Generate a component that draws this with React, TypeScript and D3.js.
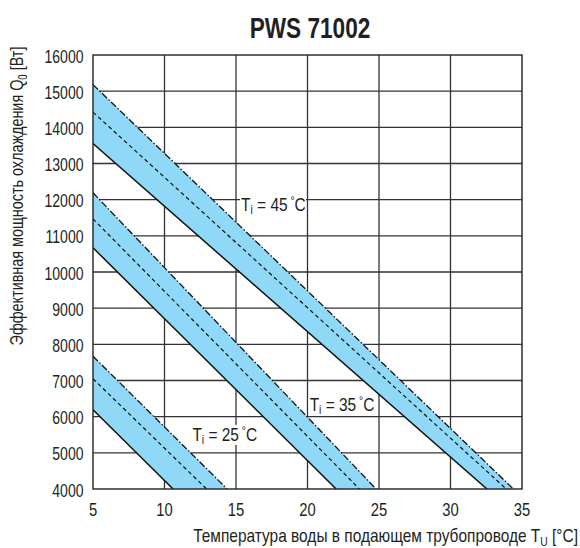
import React from 'react';
import * as d3 from 'd3';

const xTicks = [5, 10, 15, 20, 25, 30, 35];
const yTicks = [4000, 5000, 6000, 7000, 8000, 9000, 10000, 11000, 12000, 13000, 14000, 15000, 16000];
const bandNames = ['45', '35', '25'];
// upper (dash-dot) edge: [x, y] points
const upperEdge = [
  [[5, 15180], [34.4, 4000]],
  [[5, 12190], [24.8, 4000]],
  [[5, 7670], [14.38, 4000]],
];
// middle (dashed)
const middleLine = [
  [[5, 14420], [33.9, 4000]],
  [[5, 11470], [23.63, 4000]],
  [[5, 7050], [12.94, 4000]],
];
// lower (solid) edge
const lowerEdge = [
  [[5, 13550], [32.55, 4000]],
  [[5, 10670], [22.0, 4000]],
  [[5, 6190], [10.6, 4000]],
];
// label anchor positions (data coords)
const labelPos = [
  [15.35, 11700],
  [20.15, 6160],
  [11.95, 5330],
];

const W = 580, H = 548;
const L = 93, R = 522, T = 55, B = 489;
const FONT = "'Liberation Sans', Arial, sans-serif";
const INK = '#231f20';

export default function App() {
  const x = d3.scaleLinear().domain([5, 35]).range([L, R]);
  const y = d3.scaleLinear().domain([4000, 16000]).range([B, T]);
  const line = d3.line<number[]>().x(d => x(d[0])).y(d => y(d[1]));

  return (
    <svg width={W} height={H} style={{ position: 'absolute', left: 0, top: 0 }} fontFamily={FONT}>
      <defs>
        <clipPath id="plot">
          <rect x={L} y={T} width={R - L} height={B - T} />
        </clipPath>
      </defs>
      <rect x={0} y={0} width={W} height={H} fill="#fff" />
      <text transform="translate(310,38) scale(0.78,1)" textAnchor="middle" fontSize={29} fontWeight="bold" fill={INK}>PWS 71002</text>

      {/* grid */}
      {xTicks.slice(1, -1).map(t => (
        <line key={'gx' + t} x1={x(t)} x2={x(t)} y1={T} y2={B} stroke="#333" strokeWidth={1.3} />
      ))}
      {yTicks.slice(1, -1).map(t => (
        <line key={'gy' + t} x1={L} x2={R} y1={y(t)} y2={y(t)} stroke="#333" strokeWidth={1.3} />
      ))}

      <g clipPath="url(#plot)">
        {bandNames.map((n, i) => (
          <path key={'a' + n} d={line([...upperEdge[i], ...lowerEdge[i].slice().reverse()]) + 'Z'} fill="#8fd8f7" />
        ))}
        {bandNames.map((n, i) => (
          <g key={'l' + n}>
            <path d={line(upperEdge[i]) || ''} fill="none" stroke="#111" strokeWidth={1.3} strokeDasharray="7,2,1.5,2" />
            <path d={line(middleLine[i]) || ''} fill="none" stroke="#111" strokeWidth={1.2} strokeDasharray="4,3" />
            <path d={line(lowerEdge[i]) || ''} fill="none" stroke="#111" strokeWidth={1.5} />
          </g>
        ))}
      </g>

      <rect x={L} y={T} width={R - L} height={B - T} fill="none" stroke="#222" strokeWidth={1.4} />

      {/* band labels */}
      {bandNames.map((n, i) => {
        const lx = x(labelPos[i][0]);
        const ly = y(labelPos[i][1]);
        return (
          <g key={'t' + n}>
            <rect x={lx - 1} y={ly - 16} width={66} height={20} fill="#fff" />
            <text transform={`translate(${lx},${ly}) scale(0.86,1)`} fontSize={18} fill={INK}>
              T<tspan fontSize={12} dy={3}>i</tspan>
              <tspan dy={-3}> = {n}</tspan>
              <tspan fontSize={12} dy={-6}> °</tspan>
              <tspan dy={6}>C</tspan>
            </text>
          </g>
        );
      })}

      {/* y ticks */}
      {yTicks.map(t => (
        <text key={'yt' + t} transform={`translate(${L - 9.5},${y(t) + 7.5}) scale(0.78,1)`} textAnchor="end" fontSize={18} fill={INK}>{t}</text>
      ))}
      {/* x ticks */}
      {xTicks.map(t => (
        <text key={'xt' + t} transform={`translate(${x(t)},${B + 27}) scale(0.8,1)`} textAnchor="middle" fontSize={18.5} fill={INK}>{t}</text>
      ))}

      {/* axis titles */}
      <text transform="translate(23,196) rotate(-90) scale(0.8,1)" textAnchor="middle" fontSize={18} fill={INK}>
        Эффективная мощность охлаждения Q<tspan fontSize={12} dy={4}>0</tspan>
        <tspan dy={-4}> [Вт]</tspan>
      </text>
      <text transform="translate(578,542) scale(0.86,1)" textAnchor="end" fontSize={18} fill={INK}>
        Температура воды в подающем трубопроводе T<tspan fontSize={12} dy={4}>U</tspan>
        <tspan dy={-4}> [°C]</tspan>
      </text>
    </svg>
  );
}
